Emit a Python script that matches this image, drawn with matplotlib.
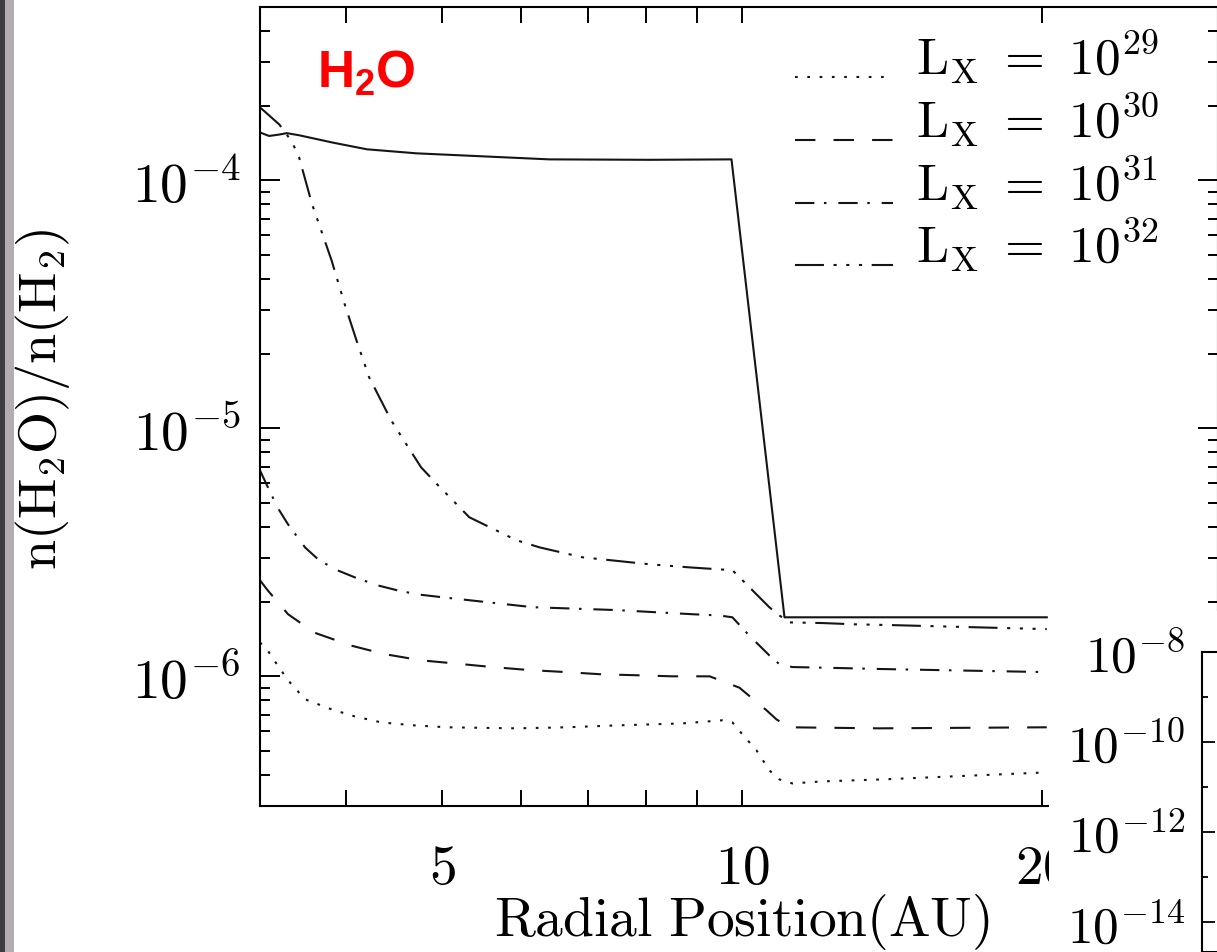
import numpy as np
import matplotlib
matplotlib.use('Agg')
import matplotlib.pyplot as plt
from matplotlib.ticker import FixedLocator, NullFormatter, LogLocator, FuncFormatter
from matplotlib.patches import Rectangle

plt.rcParams['mathtext.fontset'] = 'cm'
plt.rcParams['mathtext.bf'] = 'Liberation Sans:bold'

# radial position (AU) and n(H2O)/n(H2), one pair per X-ray luminosity
r_29 = [3.28, 3.34, 3.41, 3.50, 3.64, 3.87, 4.08, 4.34, 4.69, 5.06, 5.93, 6.66, 7.47,
        8.71, 9.55, 9.77, 10.0, 10.33, 10.64, 10.89, 11.22, 12.03, 13.01, 13.82, 20.2]
h2o_29 = [1.37e-6, 1.27e-6, 1.12e-6, 9.64e-7, 8.08e-7, 7.36e-7, 6.90e-7, 6.52e-7, 6.34e-7,
          6.23e-7, 6.17e-7, 6.23e-7, 6.34e-7, 6.46e-7, 6.65e-7, 6.52e-7, 5.83e-7, 5.03e-7,
          4.18e-7, 3.84e-7, 3.70e-7, 3.77e-7, 3.81e-7, 3.84e-7, 4.10e-7]

r_30 = [3.28, 3.34, 3.50, 3.72, 4.05, 4.37, 4.76, 5.11, 5.61, 6.11, 6.66, 7.19, 7.83,
        8.51, 9.27, 9.93, 10.57, 10.82, 11.15, 13.72, 20.2]
h2o_30 = [2.44e-6, 2.22e-6, 1.78e-6, 1.50e-6, 1.33e-6, 1.23e-6, 1.16e-6, 1.13e-6, 1.09e-6,
          1.06e-6, 1.04e-6, 1.02e-6, 1.01e-6, 1.0e-6, 1.0e-6, 9.0e-7, 7.3e-7, 6.7e-7,
          6.23e-7, 6.17e-7, 6.23e-7]

r_31 = [3.28, 3.37, 3.43, 3.50, 3.64, 3.76, 3.92, 4.08, 4.30, 4.51, 4.72, 5.02, 6.16,
        7.47, 8.91, 9.48, 9.77, 10.16, 10.64, 10.89, 11.22, 12.51, 13.82, 20.2]
h2o_31 = [6.77e-6, 5.37e-6, 4.67e-6, 4.10e-6, 3.31e-6, 2.94e-6, 2.68e-6, 2.51e-6, 2.33e-6,
          2.22e-6, 2.14e-6, 2.08e-6, 1.90e-6, 1.85e-6, 1.78e-6, 1.76e-6, 1.73e-6, 1.46e-6,
          1.215e-6, 1.12e-6, 1.09e-6, 1.08e-6, 1.07e-6, 1.04e-6]

r_32 = [3.28, 3.43, 3.49, 3.54, 3.59, 3.70, 3.76, 3.87, 3.99, 4.10, 4.22, 4.44, 4.60,
        4.76, 4.94, 5.12, 5.32, 5.66, 5.93, 6.26, 6.91, 8.07, 8.85, 9.48, 9.77, 10.0,
        10.64, 10.89, 11.15, 12.03, 13.01, 14.04, 20.2]
h2o_32 = [1.97e-4, 1.68e-4, 1.53e-4, 1.40e-4, 1.24e-4, 8.0e-5, 6.65e-5, 4.76e-5, 3.16e-5,
          2.26e-5, 1.61e-5, 1.08e-5, 8.62e-6, 6.96e-6, 5.94e-6, 5.13e-6, 4.38e-6, 3.88e-6,
          3.54e-6, 3.31e-6, 3.02e-6, 2.83e-6, 2.75e-6, 2.70e-6, 2.68e-6, 2.44e-6, 1.90e-6,
          1.76e-6, 1.65e-6, 1.64e-6, 1.62e-6, 1.61e-6, 1.55e-6]

# solid curve (not in the legend)
r_base = [3.28, 3.35, 3.43, 3.49, 3.59, 3.88, 4.20, 4.71, 5.48, 6.40, 8.07, 9.75, 11.02, 20.2]
h2o_base = [1.56e-4, 1.51e-4, 1.53e-4, 1.55e-4, 1.52e-4, 1.42e-4, 1.334e-4, 1.285e-4,
            1.25e-4, 1.215e-4, 1.21e-4, 1.215e-4, 1.73e-6, 1.73e-6]

lx_labels = [r'$\mathrm{L_X\ =\ 10^{29}}$', r'$\mathrm{L_X\ =\ 10^{30}}$',
             r'$\mathrm{L_X\ =\ 10^{31}}$', r'$\mathrm{L_X\ =\ 10^{32}}$']
x_major = [5, 10, 20]
x_minor = [4, 6, 7, 8, 9]
inset_major = [1e-8, 1e-10, 1e-12, 1e-14]
inset_minor = [1e-9, 1e-11, 1e-13]

styles = [(0, (1.3, 4.6)),
          (0, (9.8, 8.7)),
          (0, (9.3, 4.6, 1.2, 5.7)),
          (0, (13.9, 4.6, 1.5, 4.6, 1.5, 4.6, 1.5, 4.6))]

fig = plt.figure(figsize=(12.17, 9.53), dpi=100)
ax = fig.add_axes([0.2136, 0.1532, 0.7872, 0.8384])

series = [(r_29, h2o_29), (r_30, h2o_30), (r_31, h2o_31), (r_32, h2o_32)]
for (r, v), ls, lab in zip(series, styles, lx_labels):
    ax.plot(r, v, color='#151515', lw=1.5, linestyle=ls, label=lab)
ax.plot(r_base, h2o_base, color='#151515', lw=1.5, label='_nolegend_')

ax.set_xscale('log')
ax.set_yscale('log')
ax.set_xlim(3.28, 30)
ax.set_ylim(3.0e-7, 5.0e-4)
ax.xaxis.set_major_locator(FixedLocator(x_major))
ax.xaxis.set_major_formatter(FuncFormatter(lambda v, p: r'$\mathrm{%d}$' % round(v)))
ax.xaxis.set_minor_locator(FixedLocator(x_minor))
ax.xaxis.set_minor_formatter(NullFormatter())
ax.yaxis.set_major_locator(LogLocator(base=10, numticks=10))
ax.yaxis.set_major_formatter(FuncFormatter(lambda v, p: r'$\mathrm{10^{%d}}$' % round(np.log10(v))))
ax.yaxis.set_minor_locator(LogLocator(base=10, subs=np.arange(2, 10), numticks=20))
ax.yaxis.set_minor_formatter(NullFormatter())

ax.tick_params(which='both', direction='in', top=True, right=True, width=1.4, labelsize=40)
ax.tick_params(axis='x', which='both', length=11.5, pad=25)
ax.tick_params(axis='y', which='major', length=14.5, pad=14)
ax.tick_params(axis='y', which='minor', length=7.2)
for s in ax.spines.values():
    s.set_linewidth(1.5)

ax.set_xlabel(r'$\mathrm{Radial\ Position(AU)}$', fontsize=40)
ax.xaxis.set_label_coords(0.503, -0.106)
ax.set_ylabel(r'$\mathrm{n(H_2O)/n(H_2)}$', fontsize=39)
ax.yaxis.set_label_coords(-0.196, 0.51)

ax.text(0.0595, 0.901, r'$\mathbf{H_2O}$', transform=ax.transAxes, color='#ff0000',
        fontsize=37, math_fontfamily='custom', ha='left', va='baseline')

leg = ax.legend(loc='upper left', bbox_to_anchor=(0.6533, 0.971), bbox_transform=fig.transFigure,
                frameon=False, fontsize=37, handlelength=1.9, handletextpad=0.45,
                labelspacing=0.08, borderpad=0, borderaxespad=0)
# put the sample lines near the text baseline, as in the original
for l in leg.get_lines():
    l.set_ydata(np.asarray(l.get_ydata()) - 15.5)

# white cut-out with the neighbouring panel's axis
fig.add_artist(Rectangle((0.862, 0), 0.138, 0.358, transform=fig.transFigure,
                         facecolor='white', edgecolor='none', zorder=1))
ins = fig.add_axes([0.9877, 0.0, 0.2, 0.3148])
ins.set_zorder(2)
ins.set_yscale('log')
ins.set_ylim(10 ** -14.667, 1e-8)
ins.set_xticks([])
ins.yaxis.set_major_locator(FixedLocator(inset_major))
ins.yaxis.set_major_formatter(FuncFormatter(lambda v, p: r'$\mathrm{10^{%d}}$' % round(np.log10(v))))
ins.yaxis.set_minor_locator(FixedLocator(inset_minor))
ins.yaxis.set_minor_formatter(NullFormatter())
ins.tick_params(which='both', direction='in', width=1.3, labelsize=37)
ins.tick_params(which='major', length=9, pad=12)
ins.tick_params(which='minor', length=4)
for s in ins.spines.values():
    s.set_linewidth(1.5)

# grey strip on the left edge
fig.add_artist(Rectangle((0, 0), 0.0041, 1, transform=fig.transFigure,
                         facecolor='#3d3b42', edgecolor='none', zorder=3))
fig.add_artist(Rectangle((0.0041, 0), 0.0074, 1, transform=fig.transFigure,
                         facecolor='#b3adb3', edgecolor='none', zorder=3))

fig.savefig('out.png', dpi=100)
